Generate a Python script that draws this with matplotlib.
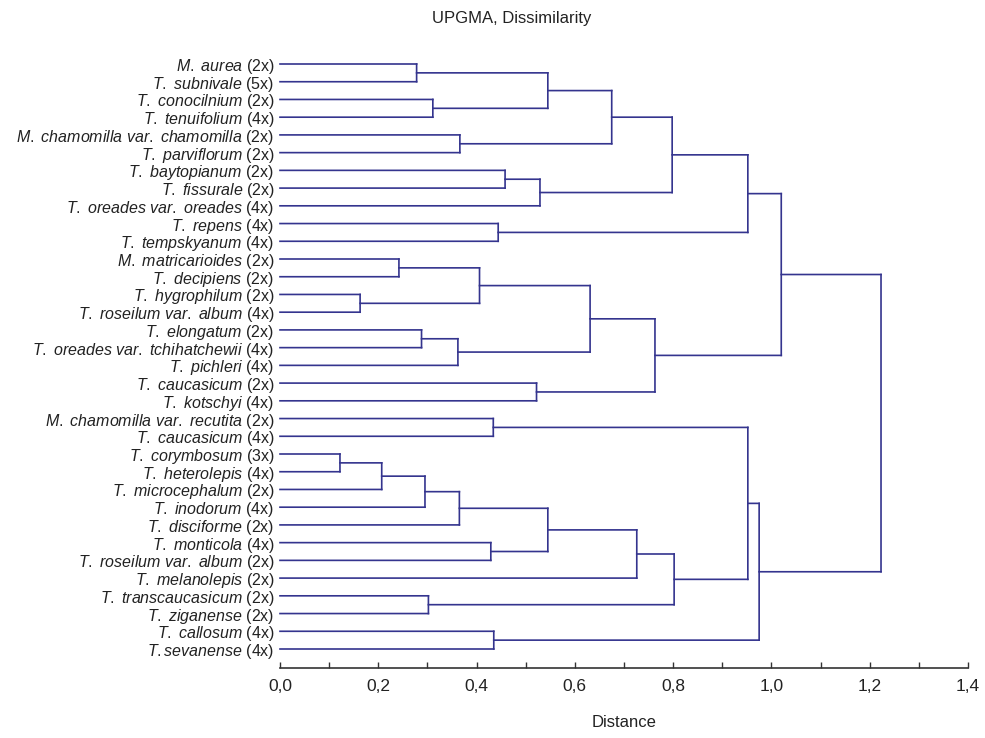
import matplotlib
matplotlib.use('Agg')
import matplotlib.pyplot as plt
import matplotlib.ticker as mtick

plt.rcParams['font.family'] = 'Liberation Sans'
plt.rcParams['mathtext.fontset'] = 'custom'
plt.rcParams['mathtext.it'] = 'Liberation Sans:italic'
plt.rcParams['mathtext.rm'] = 'Liberation Sans'

# leaves, top to bottom
names = ['M. aurea', 'T. subnivale', 'T. conocilnium', 'T. tenuifolium',
         'M. chamomilla var. chamomilla', 'T. parviflorum', 'T. baytopianum',
         'T. fissurale', 'T. oreades var. oreades', 'T. repens', 'T. tempskyanum',
         'M. matricarioides', 'T. decipiens', 'T. hygrophilum', 'T. roseilum var. album',
         'T. elongatum', 'T. oreades var. tchihatchewii', 'T. pichleri', 'T. caucasicum',
         'T. kotschyi', 'M. chamomilla var. recutita', 'T. caucasicum', 'T. corymbosum',
         'T. heterolepis', 'T. microcephalum', 'T. inodorum', 'T. disciforme',
         'T. monticola', 'T. roseilum var. album', 'T. melanolepis', 'T. transcaucasicum',
         'T. ziganense', 'T. callosum', 'T.sevanense']
ploidy = ['2x', '5x', '2x', '4x', '2x', '2x', '2x', '2x', '4x', '4x', '4x',
          '2x', '2x', '2x', '4x', '2x', '4x', '4x', '2x', '4x', '2x', '4x',
          '3x', '4x', '2x', '4x', '2x', '4x', '2x', '2x', '2x', '2x', '4x', '4x']

# UPGMA joins: node ids 0..33 are leaves, each join makes node 34, 35, ...
join_a = [0, 2, 34, 4, 36, 6, 39, 38, 9, 41, 11, 13, 44, 15, 47, 46, 18, 49, 43,
          20, 22, 54, 55, 56, 27, 57, 59, 30, 60, 53, 32, 63, 52]
join_b = [1, 3, 35, 5, 37, 7, 8, 40, 10, 42, 12, 14, 45, 16, 17, 48, 19, 50, 51,
          21, 23, 24, 25, 26, 28, 58, 29, 31, 61, 62, 33, 64, 65]
join_dist = [0.278, 0.311, 0.545, 0.366, 0.675, 0.458, 0.529, 0.798, 0.444, 0.952,
             0.242, 0.163, 0.406, 0.288, 0.362, 0.631, 0.522, 0.763, 1.020,
             0.434, 0.122, 0.207, 0.295, 0.365, 0.429, 0.545, 0.726, 0.302, 0.802,
             0.952, 0.435, 0.975, 1.223]

line_color = '#34348e'

fig = plt.figure(figsize=(9.85, 7.38), dpi=100)
ax = fig.add_axes([280 / 985, 1 - 668 / 738, 688 / 985, 613 / 738])

pos = {i: float(i) for i in range(len(names))}
height = {i: 0.0 for i in range(len(names))}
for k in range(len(join_a)):
    a, b, h = join_a[k], join_b[k], join_dist[k]
    node = len(names) + k
    ax.plot([height[a], h], [pos[a], pos[a]], color=line_color, lw=1.2, snap=False, clip_on=False)
    ax.plot([height[b], h], [pos[b], pos[b]], color=line_color, lw=1.2, snap=False, clip_on=False)
    ax.plot([h, h], [pos[a], pos[b]], color=line_color, lw=1.2, snap=False, clip_on=False)
    pos[node] = (pos[a] + pos[b]) / 2
    height[node] = h

labels = []
for n, p in zip(names, ploidy):
    labels.append('$\\mathit{' + n.replace(' ', '\\ ') + '}$ (' + p + ')')

ax.set_yticks(range(len(names)))
ax.set_yticklabels(labels, fontsize=11.5, color='#222222')
ax.tick_params(axis='y', length=0, pad=4)
ax.set_ylim(33 + 19 / 17.73, -9 / 17.73)

ax.set_xlim(0, 1.4)
ax.xaxis.set_major_locator(mtick.MultipleLocator(0.2))
ax.xaxis.set_minor_locator(mtick.MultipleLocator(0.1))
ax.xaxis.set_major_formatter(mtick.FuncFormatter(lambda v, p: f'{v:.1f}'.replace('.', ',')))
ax.tick_params(axis='x', which='both', direction='in', length=4, width=1, color='#333333',
               labelsize=12.5, pad=8, labelcolor='#222222')

for s in ['top', 'right', 'left']:
    ax.spines[s].set_visible(False)
ax.spines['bottom'].set_color('#333333')
ax.spines['bottom'].set_linewidth(1.2)

ax.set_xlabel('Distance', fontsize=12, labelpad=15, color='#222222')
fig.text(512 / 985, 1 - 19 / 738, 'UPGMA, Dissimilarity', ha='center', va='center',
         fontsize=12, color='#222222')

plt.savefig('out.png', dpi=100)
plt.close()
